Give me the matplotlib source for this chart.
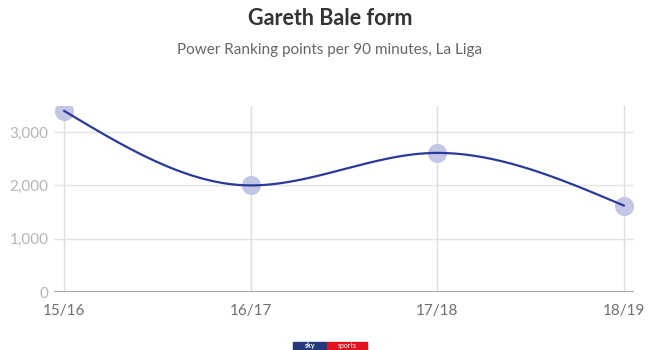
import numpy as np
import matplotlib
matplotlib.use("Agg")
import matplotlib.pyplot as plt
from matplotlib.patches import Rectangle

seasons = ["15/16", "16/17", "17/18", "18/19"]
points_per_90 = [3400, 2000, 2610, 1620]
y_ticks = [0, 1000, 2000, 3000]
y_tick_labels = ["0", "1,000", "2,000", "3,000"]

title = "Gareth Bale form"
subtitle = "Power Ranking points per 90 minutes, La Liga"

plt.rcParams["font.family"] = ["Lato", "DejaVu Sans"]


def monotone_x(x, y, n=80):
    """Monotone cubic curve (same tangent rules as d3.curveMonotoneX)."""
    x = np.asarray(x, float)
    y = np.asarray(y, float)
    h = np.diff(x)
    s = np.diff(y) / h
    m = np.zeros_like(y)
    for i in range(1, len(y) - 1):
        p = (s[i - 1] * h[i] + s[i] * h[i - 1]) / (h[i - 1] + h[i])
        m[i] = (np.sign(s[i - 1]) + np.sign(s[i])) * min(abs(s[i - 1]), abs(s[i]), 0.5 * abs(p))
    m[0] = (3 * s[0] - m[1]) / 2
    m[-1] = (3 * s[-1] - m[-2]) / 2
    xs, ys = [], []
    for i in range(len(x) - 1):
        t = np.linspace(0, 1, n)
        h00 = 2 * t**3 - 3 * t**2 + 1
        h10 = t**3 - 2 * t**2 + t
        h01 = -2 * t**3 + 3 * t**2
        h11 = t**3 - t**2
        xs.append(x[i] + t * h[i])
        ys.append(h00 * y[i] + h10 * h[i] * m[i] + h01 * y[i + 1] + h11 * h[i] * m[i + 1])
    return np.concatenate(xs), np.concatenate(ys)


fig = plt.figure(figsize=(6.6, 3.5), dpi=100)
ax = fig.add_axes([54 / 660, 58 / 350, 580 / 660, 186 / 350])

xpos = np.arange(len(seasons))
cx, cy = monotone_x(xpos, points_per_90)

ax.scatter(xpos, points_per_90, s=190, color="#c3c6e5", zorder=3, linewidths=0)
ax.plot(cx, cy, color="#2b3a98", lw=1.6, zorder=4, solid_capstyle="round")

ax.set_xlim(-0.0536, 3.0536)
ax.set_ylim(0, 3490)
ax.set_xticks(xpos)
ax.set_xticklabels(seasons)
ax.set_yticks(y_ticks)
ax.set_yticklabels(y_tick_labels)

for v in y_ticks[1:]:
    ax.axhline(v, color="#e3e3e3", lw=1, zorder=1)
for xv in xpos:
    ax.axvline(xv, color="#dcdcdc", lw=1, zorder=1)
ax.axhline(0, color="#9a9a9a", lw=1.2, zorder=2)

for sp in ax.spines.values():
    sp.set_visible(False)
ax.tick_params(axis="y", length=0, pad=4, labelsize=11, labelcolor="#b5b5b5")
ax.tick_params(axis="x", length=0, pad=9, labelsize=11, labelcolor="#707070")

fig.text(0.5, 0.948, title, ha="center", va="center", fontsize=15.5,
         fontweight="bold", color="#333333")
fig.text(0.5, 0.857, subtitle, ha="center", va="center", fontsize=11,
         color="#666666")

# Sky Sports badge at the foot of the graphic
fig.patches.append(Rectangle((293 / 660, -0.02), 34 / 660, 0.042,
                             transform=fig.transFigure, color="#253a7a"))
fig.patches.append(Rectangle((327 / 660, -0.02), 40 / 660, 0.042,
                             transform=fig.transFigure, color="#e1131f"))
fig.text(310 / 660, 1 / 350, "sky", ha="center", va="bottom", fontsize=5,
         fontweight="bold", color="white")
fig.text(347 / 660, 1 / 350, "sports", ha="center", va="bottom", fontsize=5,
         color="white")

fig.savefig("out.png", dpi=100)
